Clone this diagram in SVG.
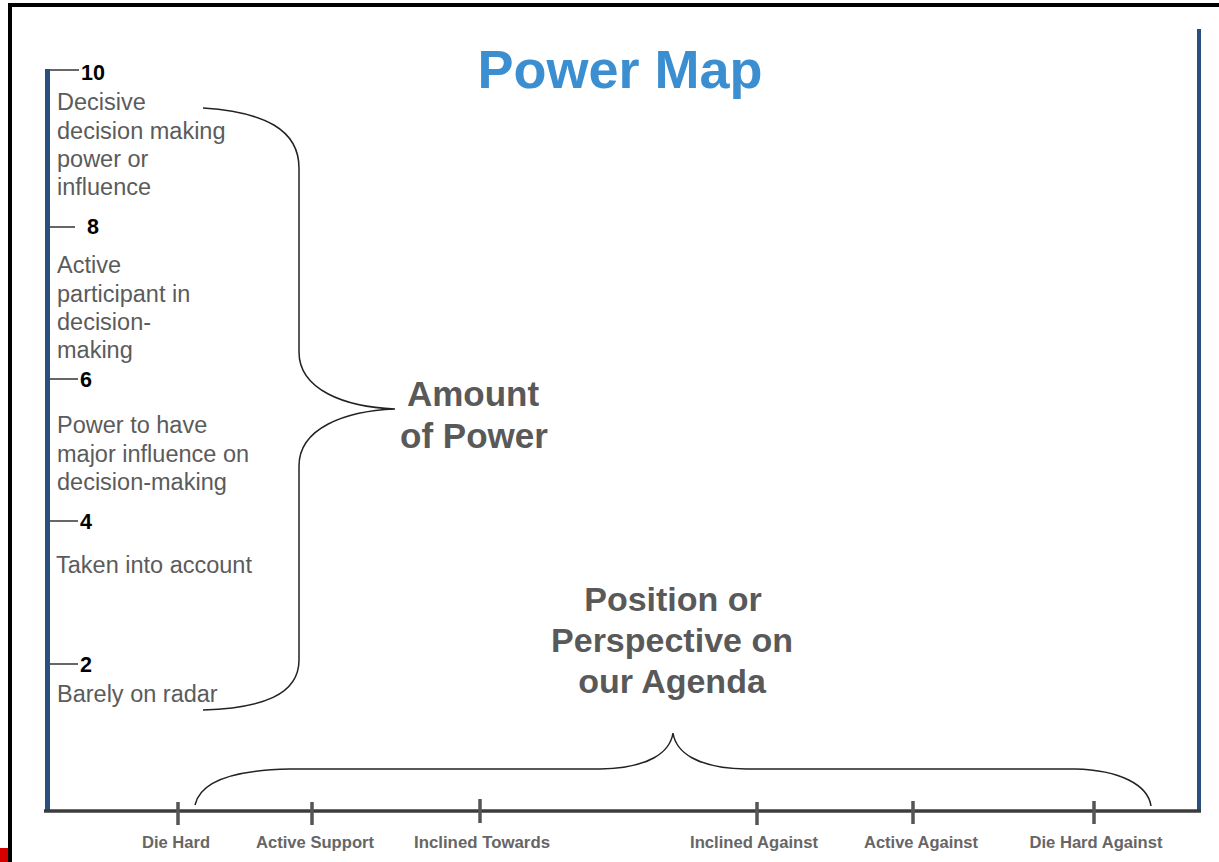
<svg xmlns="http://www.w3.org/2000/svg" width="1219" height="862" viewBox="0 0 1219 862">
<style>
.desc{font-family:"Liberation Sans",Arial,sans-serif;font-size:23.5px;fill:#5b5b5b}
.num{font-family:"Liberation Sans",Arial,sans-serif;font-size:21.5px;font-weight:bold;fill:#000}
.big{font-family:"Liberation Sans",Arial,sans-serif;font-weight:bold;fill:#595959;text-anchor:middle}
.lab{font-family:"Liberation Sans",Arial,sans-serif;font-size:16px;font-weight:bold;fill:#666;text-anchor:middle}
.tick{stroke:#000;stroke-width:1.2}
.xt{stroke:#555;stroke-width:3.5}
.brace{fill:none;stroke:#222;stroke-width:1.5}
</style>
<rect width="1219" height="862" fill="#fff"/>
<g id="frame">
<rect x="8" y="3" width="1211" height="4" fill="#000"/>
<rect x="8" y="3" width="4" height="859" fill="#000"/>
<rect x="0" y="848" width="8" height="14" fill="#d40000"/>
</g>
<g id="title"><text x="620" y="88" class="big" style="font-size:54px;fill:#3b8ed0">Power Map</text></g>
<g id="axes">
<line x1="47.5" y1="69" x2="47.5" y2="811" stroke="#27507f" stroke-width="5"/>
<line x1="1199" y1="29" x2="1199" y2="812" stroke="#27507f" stroke-width="4"/>
<line x1="44" y1="811" x2="1201" y2="811" stroke="#3c3c3c" stroke-width="3.5"/>
</g>
<g id="yticks">
<line class="tick" x1="50" y1="70" x2="79" y2="70"/>
<line class="tick" x1="50" y1="227" x2="75" y2="227"/>
<line class="tick" x1="50" y1="379" x2="78" y2="379"/>
<line class="tick" x1="50" y1="521" x2="78" y2="521"/>
<line class="tick" x1="50" y1="664" x2="78" y2="664"/>
<text class="num" x="81" y="80">10</text>
<text class="num" x="87" y="234">8</text>
<text class="num" x="80" y="387">6</text>
<text class="num" x="80" y="529">4</text>
<text class="num" x="80" y="672">2</text>
</g>
<g id="levels">
<text class="desc" x="57" y="110">Decisive</text>
<text class="desc" x="57" y="139">decision making</text>
<text class="desc" x="57" y="167">power or</text>
<text class="desc" x="57" y="195">influence</text>
<text class="desc" x="57" y="273">Active</text>
<text class="desc" x="57" y="302">participant in</text>
<text class="desc" x="57" y="330">decision-</text>
<text class="desc" x="57" y="358">making</text>
<text class="desc" x="57" y="433">Power to have</text>
<text class="desc" x="57" y="462">major influence on</text>
<text class="desc" x="57" y="490">decision-making</text>
<text class="desc" x="56" y="573">Taken into account</text>
<text class="desc" x="57" y="702">Barely on radar</text>
</g>
<g id="amount"><text class="big" style="font-size:35px" x="473" y="406">Amount</text><text class="big" style="font-size:35px" x="474" y="448">of Power</text></g>
<g id="position">
<text class="big" style="font-size:34px" x="673" y="611">Position or</text>
<text class="big" style="font-size:34px" x="672" y="652">Perspective on</text>
<text class="big" style="font-size:34px" x="672" y="693">our Agenda</text>
</g>
<g id="connectors">
<path class="brace" d="M203,108 C265,112 299,130 299,168 L299,352 C299,390 345,407 395,409 C345,411 299,428 299,466 L299,660 C299,695 262,708 203,710"/>
<path class="brace" d="M195,805 C200,782 230,770 290,769 L600,769 C650,768 670,752 673,733 C676,752 696,768 746,769 L1075,769 C1120,770 1148,785 1151,806"/>
</g>
<g id="xticks">
<line class="xt" x1="178" y1="802" x2="178" y2="825"/>
<line class="xt" x1="312" y1="802" x2="312" y2="825"/>
<line class="xt" x1="480" y1="799" x2="480" y2="823"/>
<line class="xt" x1="757" y1="802" x2="757" y2="825"/>
<line class="xt" x1="913" y1="801" x2="913" y2="824"/>
<line class="xt" x1="1094" y1="801" x2="1094" y2="824"/>
<text class="lab" x="176" y="848" textLength="68" lengthAdjust="spacingAndGlyphs">Die Hard</text>
<text class="lab" x="315" y="848" textLength="118" lengthAdjust="spacingAndGlyphs">Active  Support</text>
<text class="lab" x="482" y="848" textLength="136" lengthAdjust="spacingAndGlyphs">Inclined Towards</text>
<text class="lab" x="754" y="848" textLength="128" lengthAdjust="spacingAndGlyphs">Inclined Against</text>
<text class="lab" x="921" y="848" textLength="114" lengthAdjust="spacingAndGlyphs">Active Against</text>
<text class="lab" x="1096" y="848" textLength="133" lengthAdjust="spacingAndGlyphs">Die Hard Against</text>
</g>
</svg>
